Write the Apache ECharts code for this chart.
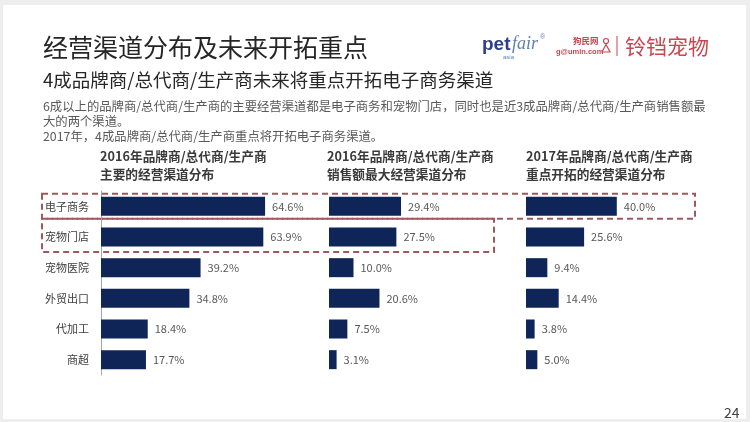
<!DOCTYPE html>
<html>
<head>
<meta charset="utf-8">
<script src="https://cdn.jsdelivr.net/npm/echarts@6/dist/echarts.min.js"></script>
<style>
html,body{margin:0;padding:0;background:#eeeeee;}
#main{width:750px;height:422px;}
</style>
</head>
<body>
<div id="main"></div>
<script>
const categories = ['电子商务', '宠物门店', '宠物医院', '外贸出口', '代加工', '商超'];
const mainChannel2016 = [64.6, 63.9, 39.2, 34.8, 18.4, 17.7];
const topSales2016 = [29.4, 27.5, 10.0, 20.6, 7.5, 3.1];
const focus2017 = [40.0, 25.6, 9.4, 14.4, 3.8, 5.0];
const panelTitles = [
  ['2016年品牌商/总代商/生产商', '主要的经营渠道分布'],
  ['2016年品牌商/总代商/生产商', '销售额最大经营渠道分布'],
  ['2017年品牌商/总代商/生产商', '重点开拓的经营渠道分布']
];
const mainTitle = '经营渠道分布及未来开拓重点';
const subTitle = '4成品牌商/总代商/生产商未来将重点开拓电子商务渠道';
const bodyLines = [
  '6成以上的品牌商/总代商/生产商的主要经营渠道都是电子商务和宠物门店，同时也是近3成品牌商/总代商/生产商销售额最',
  '大的两个渠道。',
  '2017年，4成品牌商/总代商/生产商重点将开拓电子商务渠道。'
];
const pageNumber = '24';

const FONT = '"Noto Sans CJK SC", "Microsoft YaHei", sans-serif';
const BAR = '#0f2557';
const chart = echarts.init(document.getElementById('main'));

const panels = [
  { left: 101, width: 254, max: 100, data: mainChannel2016 },
  { left: 329, width: 245, max: 100, data: topSales2016 },
  { left: 526, width: 181.6, max: 80, data: focus2017 }
];

const option = {
  backgroundColor: '#eeeeee',
  animation: false,
  grid: panels.map(p => ({ left: p.left, top: 191, width: p.width, height: 184, containLabel: false })),
  xAxis: panels.map((p, i) => ({ type: 'value', gridIndex: i, min: 0, max: p.max, show: false })),
  yAxis: panels.map((p, i) => ({
    type: 'category', gridIndex: i, inverse: true, data: categories,
    axisTick: { show: false },
    axisLine: { show: i === 0, lineStyle: { color: '#a6a6a6', width: 1 } },
    axisLabel: { show: i === 0, color: '#404040', fontSize: 11, fontFamily: FONT, margin: 12 },
    splitLine: { show: false }
  })),
  series: panels.map((p, i) => ({
    type: 'bar', xAxisIndex: i, yAxisIndex: i, data: p.data, barWidth: 19,
    itemStyle: { color: BAR },
    label: {
      show: true, position: 'right', distance: 7, color: '#595959', fontSize: 11, fontFamily: FONT,
      formatter: d => d.value.toFixed(1) + '%'
    }
  }))
};
chart.setOption(option);

const y0 = chart.convertToPixel({ yAxisIndex: 0 }, categories[0]);
const y1 = chart.convertToPixel({ yAxisIndex: 0 }, categories[1]);
const boxColor = '#a0575c';
const RED = '#c9454f';

const g = [];
g.push({ type: 'rect', z: -10, shape: { x: 3, y: 5, width: 743, height: 414 }, style: { fill: '#ffffff' } });
g.push({ type: 'text', x: 43, y: 47, style: { text: mainTitle, font: '25px ' + FONT, fill: '#262626', verticalAlign: 'middle' } });
g.push({ type: 'text', x: 43, y: 80, style: { text: subTitle, font: '18.5px ' + FONT, fill: '#262626', verticalAlign: 'middle' } });
bodyLines.forEach((t, i) => {
  g.push({ type: 'text', x: 43, y: 106 + i * 15, style: { text: t, font: '12.35px ' + FONT, fill: '#595959', verticalAlign: 'middle' } });
});
const titleX = [100, 327, 526];
panelTitles.forEach((lines, i) => {
  lines.forEach((t, j) => {
    g.push({ type: 'text', x: titleX[i], y: 156 + j * 18, style: { text: t, font: 'bold 12.7px ' + FONT, fill: '#3a3a3a', verticalAlign: 'middle' } });
  });
});
// dashed highlight boxes
g.push({ type: 'rect', shape: { x: 42, y: y0 - 12.5, width: 653, height: 25 },
  style: { fill: 'none', stroke: boxColor, lineWidth: 2, lineDash: [6, 4] } });
g.push({ type: 'rect', shape: { x: 42, y: y0 + 12.5, width: 452, height: (y1 + 15) - (y0 + 12.5) },
  style: { fill: 'none', stroke: boxColor, lineWidth: 2, lineDash: [6, 4] } });
// logos
g.push({ type: 'text', x: 482, y: 45, style: { text: 'pet', font: 'bold 19px "Liberation Sans", sans-serif', fill: '#2b3f8c', verticalAlign: 'middle' } });
g.push({ type: 'text', x: 512, y: 44, style: { text: 'fair', font: 'italic 18px "Liberation Serif", serif', fill: '#5f7fb5', verticalAlign: 'middle' } });
g.push({ type: 'text', x: 540, y: 37, style: { text: '®', font: '7px sans-serif', fill: '#5f7fb5', verticalAlign: 'middle' } });
g.push({ type: 'text', x: 503, y: 57, style: { text: 'asia', font: '6px sans-serif', fill: '#5f7fb5', verticalAlign: 'middle' } });
g.push({ type: 'text', x: 573, y: 41, style: { text: '狗民网', font: 'bold 8.5px ' + FONT, fill: RED, verticalAlign: 'middle' } });
g.push({ type: 'text', x: 556, y: 52, style: { text: 'g@umin.com', font: 'bold 7.5px "Liberation Sans", sans-serif', fill: RED, verticalAlign: 'middle' } });
g.push({ type: 'circle', shape: { cx: 606, cy: 41, r: 2.5 }, style: { fill: 'none', stroke: RED, lineWidth: 1.2 } });
g.push({ type: 'polygon', shape: { points: [[602, 52], [606, 44.5], [610, 52]] }, style: { fill: 'none', stroke: RED, lineWidth: 1.2 } });
g.push({ type: 'line', shape: { x1: 617, y1: 36, x2: 617, y2: 56 }, style: { stroke: RED, lineWidth: 1 } });
g.push({ type: 'text', x: 625, y: 46, style: { text: '铃铛宠物', font: '21px ' + FONT, fill: RED, verticalAlign: 'middle' } });
g.push({ type: 'text', x: 724, y: 413, style: { text: pageNumber, font: '14px ' + FONT, fill: '#404040', verticalAlign: 'middle' } });

chart.setOption({ graphic: g });
</script>
</body>
</html>
